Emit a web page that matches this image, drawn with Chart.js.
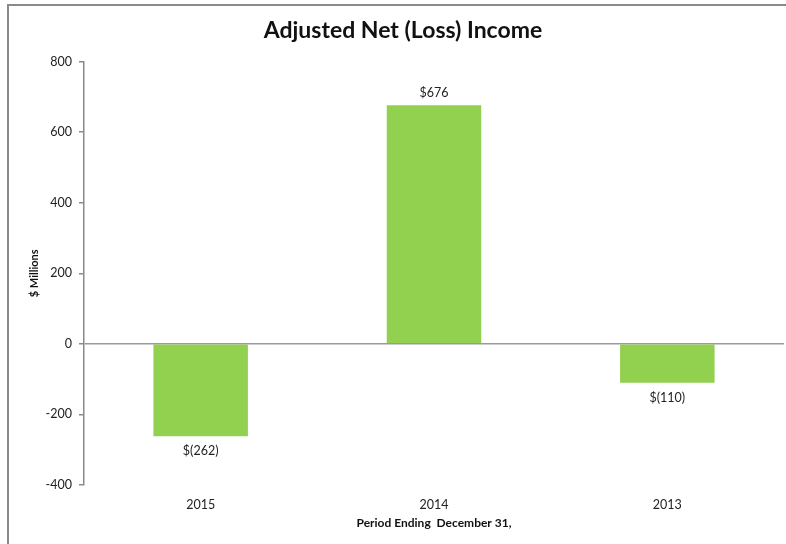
<!DOCTYPE html>
<html>
<head>
<meta charset="utf-8">
<script src="https://cdn.jsdelivr.net/npm/chart.js@4"></script>
<style>
html,body{margin:0;padding:0;background:#fff;}
#wrap{position:absolute;left:0;top:0;width:786px;height:544px;}
</style>
</head>
<body>
<div id="wrap"><canvas id="c" width="786" height="544"></canvas></div>
<script>
const categories = ["2015", "2014", "2013"];
const values = [-262, 676, -110];
const yTicks = [-400, -200, 0, 200, 400, 600, 800];
const chartTitle = "Adjusted Net (Loss) Income";
const yTitle = "$ Millions";
const xTitle = "Period Ending  December 31,";

const FONT = "Lato, 'Open Sans', sans-serif";
const fmt = v => v < 0 ? "$(" + (-v) + ")" : "$" + v;

const frame = {
  id: "frame",
  beforeDraw(chart) {
    const ctx = chart.ctx;
    ctx.save();
    ctx.strokeStyle = "#8a8a8a";
    ctx.lineWidth = 2;
    ctx.beginPath();
    ctx.moveTo(8, chart.height + 2);
    ctx.lineTo(8, 5);
    ctx.lineTo(chart.width + 2, 5);
    ctx.stroke();
    ctx.restore();
  }
};

const labelsPlugin = {
  id: "valueLabels",
  afterDatasetsDraw(chart) {
    const ctx = chart.ctx;
    const meta = chart.getDatasetMeta(0);
    ctx.save();
    ctx.font = "12.5px " + FONT;
    ctx.fillStyle = "#222";
    ctx.textAlign = "center";
    ctx.textBaseline = "middle";
    meta.data.forEach((el, i) => {
      const v = chart.data.datasets[0].data[i];
      const y = v >= 0 ? el.y - 12 : el.y + 15;
      ctx.fillText(fmt(v), el.x, y);
    });
    ctx.restore();
  }
};

new Chart(document.getElementById("c"), {
  type: "bar",
  data: {
    labels: categories,
    datasets: [{
      data: values,
      backgroundColor: "#92D050",
      borderWidth: 0,
      categoryPercentage: 1,
      barPercentage: 0.405
    }]
  },
  options: {
    responsive: false,
    animation: false,
    layout: { padding: { left: 22, right: 2, top: 0, bottom: 0 } },
    plugins: {
      legend: { display: false },
      tooltip: { enabled: false },
      title: {
        display: true,
        text: chartTitle,
        color: "#111",
        font: { family: FONT, size: 23, weight: "bold" },
        padding: { top: 17, bottom: 17 }
      }
    },
    scales: {
      x: {
        grid: { display: false },
        border: { display: false },
        ticks: { color: "#222", font: { family: FONT, size: 12.5 }, padding: 4 },
        title: {
          display: true,
          text: xTitle,
          color: "#111",
          font: { family: FONT, size: 12, weight: "bold" },
          padding: { top: 4, bottom: 14 }
        },
        afterFit(scale) { scale.height = 59; }
      },
      y: {
        min: -400,
        max: 800,
        afterBuildTicks(scale) { scale.ticks = yTicks.map(v => ({ value: v })); },
        grid: {
          drawOnChartArea: true,
          drawTicks: true,
          tickLength: 5,
          color: ctx => (ctx.tick && ctx.tick.value === 0) ? "#9a9a9a" : "rgba(0,0,0,0)",
          tickColor: "#8a8a8a",
          lineWidth: 1.5
        },
        border: { display: true, color: "#8a8a8a", width: 1.5 },
        ticks: { color: "#222", font: { family: FONT, size: 12.5 }, padding: 7 },
        title: {
          display: true,
          text: yTitle,
          color: "#111",
          font: { family: FONT, size: 11, weight: "bold" },
          padding: { top: 6, bottom: 0 }
        },
        afterFit(scale) { scale.width = 62; }
      }
    }
  },
  plugins: [frame, labelsPlugin]
});
</script>
</body>
</html>
